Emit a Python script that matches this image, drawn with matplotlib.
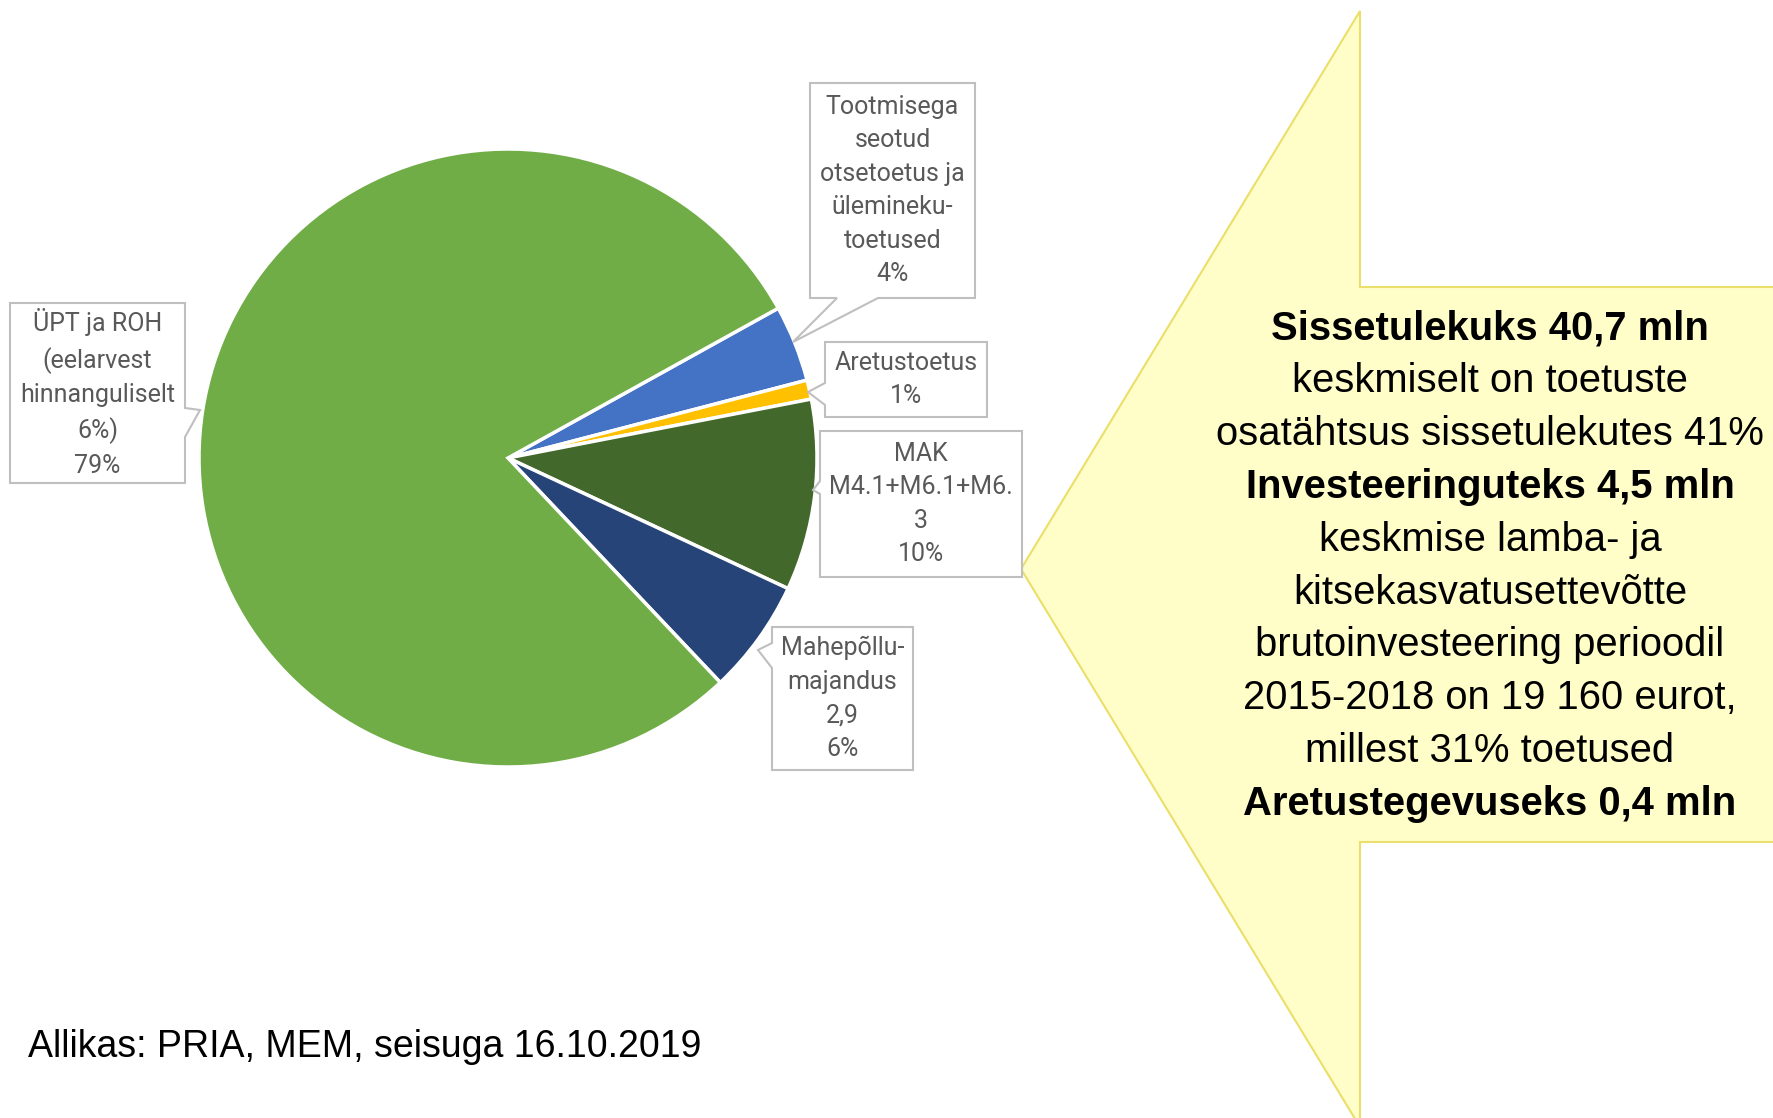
import matplotlib
matplotlib.use('Agg')
import matplotlib.pyplot as plt
from matplotlib.patches import Polygon

# ── data ──
names = ["Tootmisega\nseotud\notsetoetus ja\nülemineku-\ntoetused",
         "Aretustoetus",
         "MAK\nM4.1+M6.1+M6.\n3",
         "Mahepõllu-\nmajandus\n2,9",
         "ÜPT ja ROH\n(eelarvest\nhinnanguliselt\n6%)"]
shares = [4, 1, 10, 6, 79]
colors = ['#4472C4', '#FFC000', '#43682B', '#264478', '#70AD47']

info_lines = ["Sissetulekuks 40,7 mln",
              "keskmiselt on toetuste",
              "osatähtsus sissetulekutes 41%",
              "Investeeringuteks 4,5 mln",
              "keskmise lamba- ja",
              "kitsekasvatusettevõtte",
              "brutoinvesteering perioodil",
              "2015-2018 on 19 160 eurot,",
              "millest 31% toetused",
              "Aretustegevuseks 0,4 mln"]
info_bold = [True, False, False, True, False, False, False, False, False, True]
source = "Allikas: PRIA, MEM, seisuga 16.10.2019"

W, H = 1773, 1118
fig = plt.figure(figsize=(W / 100, H / 100), dpi=100)
fig.patch.set_facecolor('white')

# pie axes (centre 508,458 px, radius 309 px)
cx, cy, r = 508, 458, 309
pax = fig.add_axes([(cx - r) / W, (H - cy - r) / H, 2 * r / W, 2 * r / H])
pax.pie(shares, colors=colors, startangle=29, counterclock=False,
        wedgeprops=dict(edgecolor='white', linewidth=2.5))
pax.set_xlim(-1, 1)
pax.set_ylim(-1, 1)
pax.axis('off')

# overlay in pixel coordinates
ov = fig.add_axes([0, 0, 1, 1], zorder=5)
ov.set_xlim(0, W)
ov.set_ylim(H, 0)
ov.axis('off')
ov.patch.set_alpha(0)

# big yellow arrow
arrow = [(1021, 569), (1360, 11), (1360, 287), (1780, 287), (1780, 842),
         (1360, 842), (1360, 1127)]
ov.add_patch(Polygon(arrow, closed=True, facecolor='#FFFDC8',
                     edgecolor='#EADF6A', linewidth=1.5))


def callout(ax, x0, y0, x1, y1, side, b0, b1, tip):
    pts = [(x0, y0), (x1, y0)]
    if side == 'right':
        pts += [(x1, b0), tip, (x1, b1)]
    pts.append((x1, y1))
    if side == 'bottom':
        pts += [(b1, y1), tip, (b0, y1)]
    pts.append((x0, y1))
    if side == 'left':
        pts += [(x0, b1), tip, (x0, b0)]
    ax.add_patch(Polygon(pts, closed=True, facecolor='white',
                         edgecolor='#BFBFBF', linewidth=1.5))


boxes = [
    (810, 83, 975, 298, 'bottom', 837, 878, (793, 342)),
    (825, 342, 987, 417, 'left', 383, 405, (808, 392)),
    (820, 431, 1022, 577, 'left', 481, 494, (813, 490)),
    (772, 627, 913, 770, 'left', 643, 668, (758, 650)),
    (10, 303, 185, 483, 'right', 408, 437, (200, 410)),
]
for (x0, y0, x1, y1, side, b0, b1, tip), name, pct in zip(boxes, names, shares):
    callout(ov, x0, y0, x1, y1, side, b0, b1, tip)
    ov.text((x0 + x1) / 2, (y0 + y1) / 2, f"{name}\n{pct}%", ha='center',
            va='center', fontsize=18, color='#595959', linespacing=1.5,
            family=['Roboto', 'DejaVu Sans'])

# text inside arrow
for i, (line, b) in enumerate(zip(info_lines, info_bold)):
    ov.text(1490, 328 + i * 52.9, line, ha='center', va='center',
            fontsize=28.8, fontweight='bold' if b else 'normal', color='black',
            family=['Liberation Sans', 'DejaVu Sans'])

ov.text(28, 1047, source, ha='left', va='center', fontsize=27,
        color='black', family=['Liberation Sans', 'DejaVu Sans'])

fig.savefig('out.png', dpi=100, facecolor='white')
